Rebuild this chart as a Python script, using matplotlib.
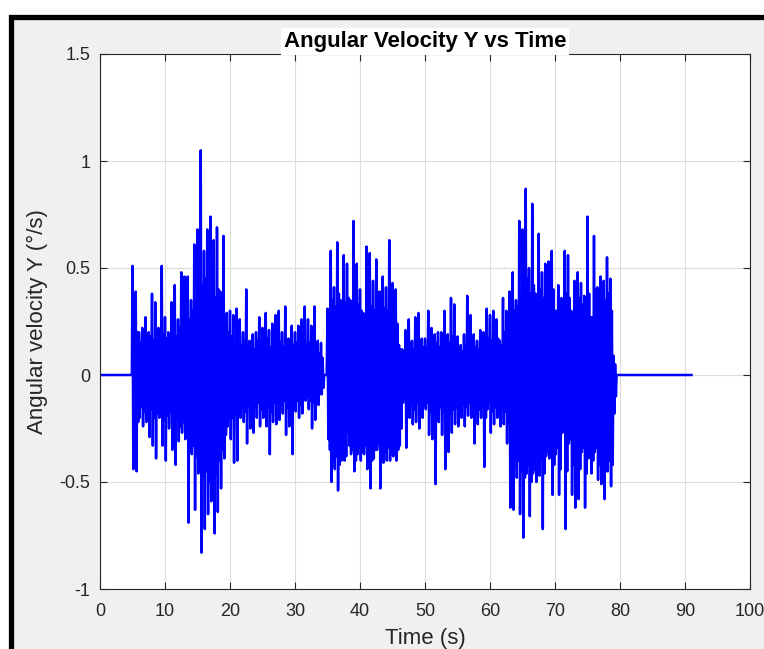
import matplotlib.pyplot as plt
from matplotlib.patches import Rectangle
import numpy as np

plt.rcParams['font.family'] = ['Liberation Sans', 'DejaVu Sans']

# signal, 0.5 s bins starting at 5 s
# upper/lower: the big peaks of each bin, upper_b/lower_b: the smaller in-between swings
t_start = 5.0
upper = [0.51, 0.39, 0.20, 0.22, 0.27, 0.20, 0.38, 0.34, 0.22, 0.51,
         0.27, 0.20, 0.34, 0.42, 0.26, 0.48, 0.46, 0.46, 0.35, 0.61,
         0.68, 1.05, 0.58, 0.68, 0.74, 0.63, 0.69, 0.39, 0.65, 0.29,
         0.30, 0.28, 0.31, 0.26, 0.20, 0.40, 0.16, 0.19, 0.20, 0.27,
         0.22, 0.29, 0.21, 0.24, 0.28, 0.30, 0.20, 0.32, 0.17, 0.23,
         0.20, 0.23, 0.26, 0.32, 0.26, 0.23, 0.32, 0.16, 0.15, 0.00,
         0.31, 0.58, 0.41, 0.62, 0.35, 0.56, 0.52, 0.35, 0.72, 0.52,
         0.40, 0.29, 0.60, 0.57, 0.44, 0.54, 0.39, 0.46, 0.41, 0.63,
         0.43, 0.40, 0.14, 0.12, 0.21, 0.26, 0.16, 0.27, 0.29, 0.17,
         0.17, 0.30, 0.22, 0.19, 0.20, 0.20, 0.30, 0.19, 0.36, 0.33,
         0.18, 0.14, 0.19, 0.37, 0.28, 0.19, 0.16, 0.21, 0.20, 0.31,
         0.28, 0.30, 0.26, 0.16, 0.36, 0.30, 0.39, 0.48, 0.35, 0.72,
         0.68, 0.87, 0.50, 0.80, 0.38, 0.66, 0.48, 0.52, 0.53, 0.58,
         0.30, 0.42, 0.36, 0.58, 0.56, 0.30, 0.44, 0.48, 0.43, 0.37,
         0.74, 0.27, 0.65, 0.41, 0.46, 0.44, 0.55, 0.45, 0.09]
lower = [-0.44, -0.45, -0.20, -0.24, -0.22, -0.29, -0.33, -0.39, -0.20, -0.33,
         -0.40, -0.25, -0.35, -0.42, -0.31, -0.27, -0.30, -0.69, -0.37, -0.63,
         -0.46, -0.83, -0.72, -0.65, -0.59, -0.74, -0.64, -0.53, -0.39, -0.24,
         -0.30, -0.41, -0.40, -0.20, -0.22, -0.32, -0.25, -0.27, -0.20, -0.24,
         -0.20, -0.24, -0.37, -0.22, -0.23, -0.21, -0.18, -0.28, -0.24, -0.37,
         -0.17, -0.20, -0.18, -0.12, -0.16, -0.25, -0.21, -0.14, -0.09, 0.00,
         -0.30, -0.50, -0.44, -0.54, -0.40, -0.40, -0.27, -0.37, -0.45, -0.37,
         -0.40, -0.37, -0.44, -0.53, -0.39, -0.35, -0.53, -0.41, -0.40, -0.40,
         -0.38, -0.40, -0.33, -0.13, -0.34, -0.20, -0.23, -0.22, -0.25, -0.20,
         -0.16, -0.28, -0.30, -0.51, -0.22, -0.28, -0.44, -0.36, -0.27, -0.23,
         -0.24, -0.20, -0.24, -0.19, -0.20, -0.32, -0.23, -0.20, -0.43, -0.16,
         -0.27, -0.23, -0.20, -0.24, -0.23, -0.32, -0.62, -0.63, -0.48, -0.65,
         -0.76, -0.46, -0.66, -0.46, -0.50, -0.47, -0.72, -0.38, -0.39, -0.56,
         -0.37, -0.56, -0.27, -0.72, -0.32, -0.56, -0.62, -0.58, -0.36, -0.62,
         -0.39, -0.46, -0.36, -0.49, -0.51, -0.58, -0.45, -0.52, -0.18]
upper_b = [0.18, 0.20, 0.15, 0.17, 0.14, 0.18, 0.16, 0.20, 0.15, 0.19,
           0.17, 0.15, 0.20, 0.18, 0.22, 0.20, 0.24, 0.26, 0.30, 0.33,
           0.38, 0.42, 0.45, 0.40, 0.44, 0.36, 0.40, 0.30, 0.27, 0.20,
           0.18, 0.15, 0.17, 0.14, 0.16, 0.13, 0.15, 0.12, 0.16, 0.14,
           0.15, 0.17, 0.13, 0.16, 0.14, 0.15, 0.13, 0.16, 0.12, 0.14,
           0.15, 0.13, 0.16, 0.14, 0.15, 0.13, 0.12, 0.10, 0.08, 0.00,
           0.30, 0.35, 0.32, 0.38, 0.30, 0.34, 0.36, 0.31, 0.35, 0.33,
           0.30, 0.26, 0.34, 0.32, 0.30, 0.33, 0.29, 0.31, 0.30, 0.32,
           0.28, 0.24, 0.12, 0.10, 0.14, 0.15, 0.12, 0.16, 0.14, 0.13,
           0.13, 0.16, 0.14, 0.15, 0.13, 0.14, 0.17, 0.15, 0.18, 0.16,
           0.12, 0.11, 0.14, 0.16, 0.15, 0.13, 0.12, 0.15, 0.14, 0.17,
           0.16, 0.18, 0.17, 0.14, 0.20, 0.22, 0.26, 0.30, 0.32, 0.38,
           0.40, 0.45, 0.38, 0.42, 0.33, 0.40, 0.36, 0.38, 0.35, 0.40,
           0.30, 0.34, 0.32, 0.38, 0.36, 0.28, 0.34, 0.36, 0.33, 0.31,
           0.38, 0.27, 0.40, 0.34, 0.36, 0.35, 0.38, 0.30, 0.05]
lower_b = [-0.18, -0.22, -0.15, -0.17, -0.19, -0.16, -0.20, -0.18, -0.15, -0.21,
           -0.19, -0.17, -0.22, -0.20, -0.24, -0.22, -0.25, -0.30, -0.33, -0.38,
           -0.42, -0.47, -0.45, -0.50, -0.44, -0.46, -0.40, -0.35, -0.28, -0.20,
           -0.20, -0.18, -0.16, -0.15, -0.17, -0.14, -0.16, -0.15, -0.13, -0.16,
           -0.14, -0.15, -0.17, -0.13, -0.15, -0.14, -0.12, -0.15, -0.14, -0.16,
           -0.12, -0.14, -0.11, -0.10, -0.12, -0.13, -0.11, -0.09, -0.06, 0.00,
           -0.35, -0.40, -0.38, -0.42, -0.36, -0.38, -0.33, -0.35, -0.40, -0.34,
           -0.36, -0.33, -0.38, -0.40, -0.35, -0.32, -0.38, -0.36, -0.34, -0.37,
           -0.33, -0.35, -0.25, -0.11, -0.15, -0.14, -0.16, -0.13, -0.15, -0.14,
           -0.13, -0.17, -0.16, -0.20, -0.15, -0.17, -0.21, -0.18, -0.16, -0.15,
           -0.16, -0.14, -0.15, -0.13, -0.15, -0.18, -0.16, -0.14, -0.20, -0.13,
           -0.17, -0.15, -0.14, -0.16, -0.17, -0.22, -0.35, -0.42, -0.40, -0.45,
           -0.48, -0.42, -0.50, -0.44, -0.42, -0.40, -0.46, -0.36, -0.35, -0.42,
           -0.34, -0.44, -0.26, -0.45, -0.30, -0.42, -0.45, -0.44, -0.34, -0.46,
           -0.36, -0.40, -0.34, -0.42, -0.44, -0.45, -0.40, -0.42, -0.10]
t_end = 91.0

xticks = [0, 10, 20, 30, 40, 50, 60, 70, 80, 90, 100]
yticks = [-1, -0.5, 0, 0.5, 1, 1.5]
ylabels = ['-1', '-0.5', '0', '0.5', '1', '1.5']

#################################################
bins = t_start + 0.5 * np.arange(len(upper))
t = np.column_stack([bins, bins + 0.125, bins + 0.25, bins + 0.375]).ravel()
y = np.column_stack([upper, lower, upper_b, lower_b]).ravel()
t = np.concatenate([[0, t_start - 0.1], t, [t[-1] + 0.1, t_end]])
y = np.concatenate([[0, 0], y, [0, 0]])

fig = plt.figure(figsize=(7.64, 6.49), dpi=100)
fig.patch.set_facecolor('white')
bg = Rectangle((10.5 / 764, -0.1), 1.2, 1.1 - 17.5 / 649, transform=fig.transFigure,
               facecolor='#f0f0f0', edgecolor='black', linewidth=3.8, zorder=-10)
fig.add_artist(bg)

ax = fig.add_axes([100 / 764, 60 / 649, 650 / 764, 535 / 649])
ax.plot(t, y, color=(0, 0, 1), linewidth=1.8)

ax.set_xlim(0, 100)
ax.set_ylim(-1, 1.5)
ax.set_xticks(xticks)
ax.set_yticks(yticks)
ax.set_yticklabels(ylabels)
ax.grid(True, color='#dcdcdc', linewidth=0.8)
ax.set_axisbelow(True)
ax.tick_params(direction='in', top=True, right=True, length=5, width=0.8,
               colors='#262626', labelsize=13, pad=7)
ax.tick_params(axis='x', pad=10)
for s in ax.spines.values():
    s.set_color('#262626')
    s.set_linewidth(0.8)

ax.set_title('Angular Velocity Y vs Time', fontsize=16, fontweight='bold', pad=5,
             bbox=dict(facecolor='white', edgecolor='none', pad=2))
ax.set_xlabel('Time (s)', fontsize=16, color='#262626', labelpad=6)
ax.set_ylabel('Angular velocity Y (°/s)', fontsize=16, color='#262626', labelpad=8)

fig.savefig('out.png', dpi=100)
